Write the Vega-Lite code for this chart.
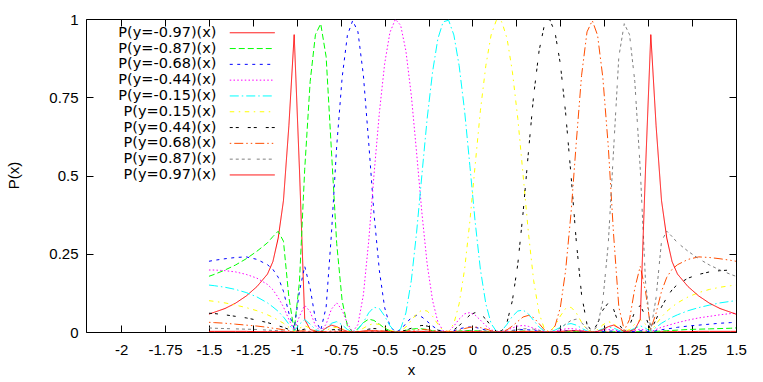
{
"$schema": "https://vega.github.io/schema/vega-lite/v6.json",
"width": 650, "height": 313,
"autosize": {"type": "none"},
"padding": {"left": 86, "top": 19, "right": 27, "bottom": 50},
"background": "white",
"config": {
 "view": {"stroke": "#000", "strokeWidth": 1},
 "font": "Liberation Sans",
 "axis": {"grid": false, "domain": false, "tickColor": "#000", "tickSize": -7, "tickWidth": 1,
  "labelFont": "Liberation Sans", "labelFontSize": 15, "labelColor": "#000",
  "titleFont": "Liberation Sans", "titleFontSize": 15, "titleFontWeight": "normal", "titleColor": "#000"}
},
"data": {"values": [
{"s":"a","x":-1.5,"p":0.057},{"s":"a","x":-1.47,"p":0.063},{"s":"a","x":-1.409,"p":0.075},{"s":"a","x":-1.349,"p":0.092},{"s":"a","x":-1.288,"p":0.115},{"s":"a","x":-1.227,"p":0.145},{"s":"a","x":-1.167,"p":0.185},{"s":"a","x":-1.136,"p":0.225},{"s":"a","x":-1.106,"p":0.3},{"s":"a","x":-1.076,"p":0.42},{"s":"a","x":-1.045,"p":0.66},{"s":"a","x":-1.015,"p":0.95},{"s":"a","x":-0.985,"p":0.52},{"s":"a","x":-0.955,"p":0.04},{"s":"a","x":-0.924,"p":0.008},{"s":"a","x":-0.894,"p":0.003},{"s":"a","x":-0.864,"p":0.001},{"s":"a","x":-0.833,"p":0.013},{"s":"a","x":-0.803,"p":0.022},{"s":"a","x":-0.773,"p":0.017},{"s":"a","x":-0.742,"p":0.008},{"s":"a","x":-0.712,"p":0.002},{"s":"a","x":-0.682,"p":0},{"s":"a","x":-0.652,"p":0.001},{"s":"a","x":-0.621,"p":0.003},{"s":"a","x":-0.591,"p":0.004},{"s":"a","x":-0.561,"p":0.004},{"s":"a","x":-0.53,"p":0.003},{"s":"a","x":-0.5,"p":0.002},{"s":"a","x":-0.47,"p":0},{"s":"a","x":-0.439,"p":0},{"s":"a","x":-0.409,"p":0},{"s":"a","x":-0.379,"p":0.001},{"s":"a","x":-0.348,"p":0.001},{"s":"a","x":-0.318,"p":0.002},{"s":"a","x":-0.288,"p":0.002},{"s":"a","x":-0.258,"p":0.001},{"s":"a","x":-0.227,"p":0.001},{"s":"a","x":-0.197,"p":0},{"s":"a","x":-0.167,"p":0},{"s":"a","x":-0.136,"p":0},{"s":"a","x":-0.106,"p":0},{"s":"a","x":-0.076,"p":0},{"s":"a","x":-0.045,"p":0.001},{"s":"a","x":-0.015,"p":0.001},
{"s":"a","x":0.015,"p":0},{"s":"a","x":0.045,"p":0},{"s":"a","x":0.076,"p":0},{"s":"a","x":0.106,"p":0},{"s":"a","x":0.136,"p":0},{"s":"a","x":0.167,"p":0},{"s":"a","x":0.197,"p":0},{"s":"a","x":0.227,"p":0},{"s":"a","x":0.258,"p":0},{"s":"a","x":0.288,"p":0},{"s":"a","x":0.318,"p":0},{"s":"a","x":0.348,"p":0},{"s":"a","x":0.379,"p":0},{"s":"a","x":0.409,"p":0},{"s":"a","x":0.439,"p":0},{"s":"a","x":0.47,"p":0},{"s":"a","x":0.5,"p":0},{"s":"a","x":0.53,"p":0},{"s":"a","x":0.561,"p":0},{"s":"a","x":0.591,"p":0},{"s":"a","x":0.621,"p":0},{"s":"a","x":0.652,"p":0},{"s":"a","x":0.682,"p":0},{"s":"a","x":0.712,"p":0},{"s":"a","x":0.742,"p":0},{"s":"a","x":0.773,"p":0},{"s":"a","x":0.803,"p":0},{"s":"a","x":0.833,"p":0},{"s":"a","x":0.864,"p":0},{"s":"a","x":0.894,"p":0},{"s":"a","x":0.924,"p":0},{"s":"a","x":0.955,"p":0},{"s":"a","x":0.985,"p":0},{"s":"a","x":1.015,"p":0},{"s":"a","x":1.045,"p":0},{"s":"a","x":1.076,"p":0.001},{"s":"a","x":1.106,"p":0.001},{"s":"a","x":1.136,"p":0.001},{"s":"a","x":1.167,"p":0.001},{"s":"a","x":1.227,"p":0.001},{"s":"a","x":1.288,"p":0.002},{"s":"a","x":1.349,"p":0.002},{"s":"a","x":1.409,"p":0.002},{"s":"a","x":1.47,"p":0.002},{"s":"a","x":1.5,"p":0.002},
{"s":"b","x":-1.5,"p":0.178},{"s":"b","x":-1.47,"p":0.184},{"s":"b","x":-1.409,"p":0.198},{"s":"b","x":-1.349,"p":0.214},{"s":"b","x":-1.288,"p":0.234},{"s":"b","x":-1.227,"p":0.258},{"s":"b","x":-1.167,"p":0.285},{"s":"b","x":-1.136,"p":0.305},{"s":"b","x":-1.106,"p":0.322},{"s":"b","x":-1.076,"p":0.29},{"s":"b","x":-1.045,"p":0.11},{"s":"b","x":-1.015,"p":0.005},{"s":"b","x":-0.985,"p":0.16},{"s":"b","x":-0.955,"p":0.52},{"s":"b","x":-0.924,"p":0.8},{"s":"b","x":-0.894,"p":0.95},{"s":"b","x":-0.864,"p":0.985},{"s":"b","x":-0.833,"p":0.879},{"s":"b","x":-0.803,"p":0.58},{"s":"b","x":-0.773,"p":0.283},{"s":"b","x":-0.742,"p":0.1},{"s":"b","x":-0.712,"p":0.02},{"s":"b","x":-0.682,"p":0},{"s":"b","x":-0.652,"p":0.01},{"s":"b","x":-0.621,"p":0.03},{"s":"b","x":-0.591,"p":0.041},{"s":"b","x":-0.561,"p":0.037},{"s":"b","x":-0.53,"p":0.025},{"s":"b","x":-0.5,"p":0.012},{"s":"b","x":-0.47,"p":0.004},{"s":"b","x":-0.439,"p":0},{"s":"b","x":-0.409,"p":0.001},{"s":"b","x":-0.379,"p":0.005},{"s":"b","x":-0.348,"p":0.009},{"s":"b","x":-0.318,"p":0.011},{"s":"b","x":-0.288,"p":0.01},{"s":"b","x":-0.258,"p":0.008},{"s":"b","x":-0.227,"p":0.004},{"s":"b","x":-0.197,"p":0.002},{"s":"b","x":-0.167,"p":0},{"s":"b","x":-0.136,"p":0},{"s":"b","x":-0.106,"p":0.001},{"s":"b","x":-0.076,"p":0.003},{"s":"b","x":-0.045,"p":0.004},{"s":"b","x":-0.015,"p":0.005},
{"s":"b","x":0.015,"p":0.004},{"s":"b","x":0.045,"p":0.003},{"s":"b","x":0.076,"p":0.002},{"s":"b","x":0.106,"p":0.001},{"s":"b","x":0.136,"p":0},{"s":"b","x":0.167,"p":0},{"s":"b","x":0.197,"p":0.001},{"s":"b","x":0.227,"p":0.002},{"s":"b","x":0.258,"p":0.002},{"s":"b","x":0.288,"p":0.003},{"s":"b","x":0.318,"p":0.002},{"s":"b","x":0.348,"p":0.002},{"s":"b","x":0.379,"p":0.001},{"s":"b","x":0.409,"p":0},{"s":"b","x":0.439,"p":0},{"s":"b","x":0.47,"p":0},{"s":"b","x":0.5,"p":0.001},{"s":"b","x":0.53,"p":0.001},{"s":"b","x":0.561,"p":0.002},{"s":"b","x":0.591,"p":0.001},{"s":"b","x":0.621,"p":0.001},{"s":"b","x":0.652,"p":0},{"s":"b","x":0.682,"p":0},{"s":"b","x":0.712,"p":0},{"s":"b","x":0.742,"p":0.001},{"s":"b","x":0.773,"p":0.001},{"s":"b","x":0.803,"p":0.001},{"s":"b","x":0.833,"p":0},{"s":"b","x":0.864,"p":0},{"s":"b","x":0.894,"p":0.001},{"s":"b","x":0.924,"p":0.001},{"s":"b","x":0.955,"p":0.001},{"s":"b","x":0.985,"p":0.001},{"s":"b","x":1.015,"p":0},{"s":"b","x":1.045,"p":0.002},{"s":"b","x":1.076,"p":0.003},{"s":"b","x":1.106,"p":0.004},{"s":"b","x":1.136,"p":0.005},{"s":"b","x":1.167,"p":0.006},{"s":"b","x":1.227,"p":0.008},{"s":"b","x":1.288,"p":0.009},{"s":"b","x":1.349,"p":0.01},{"s":"b","x":1.409,"p":0.011},{"s":"b","x":1.47,"p":0.012},{"s":"b","x":1.5,"p":0.013},
{"s":"c","x":-1.5,"p":0.226},{"s":"c","x":-1.47,"p":0.229},{"s":"c","x":-1.409,"p":0.234},{"s":"c","x":-1.349,"p":0.238},{"s":"c","x":-1.288,"p":0.24},{"s":"c","x":-1.227,"p":0.232},{"s":"c","x":-1.167,"p":0.215},{"s":"c","x":-1.136,"p":0.2},{"s":"c","x":-1.106,"p":0.175},{"s":"c","x":-1.076,"p":0.13},{"s":"c","x":-1.045,"p":0.06},{"s":"c","x":-1.015,"p":0.01},{"s":"c","x":-0.985,"p":0.13},{"s":"c","x":-0.955,"p":0.21},{"s":"c","x":-0.924,"p":0.14},{"s":"c","x":-0.894,"p":0.04},{"s":"c","x":-0.864,"p":0.005},{"s":"c","x":-0.833,"p":0.08},{"s":"c","x":-0.803,"p":0.313},{"s":"c","x":-0.773,"p":0.593},{"s":"c","x":-0.742,"p":0.813},{"s":"c","x":-0.712,"p":0.948},{"s":"c","x":-0.682,"p":0.995},{"s":"c","x":-0.652,"p":0.959},{"s":"c","x":-0.621,"p":0.82},{"s":"c","x":-0.591,"p":0.607},{"s":"c","x":-0.561,"p":0.38},{"s":"c","x":-0.53,"p":0.196},{"s":"c","x":-0.5,"p":0.078},{"s":"c","x":-0.47,"p":0.019},{"s":"c","x":-0.439,"p":0},{"s":"c","x":-0.409,"p":0.007},{"s":"c","x":-0.379,"p":0.027},{"s":"c","x":-0.348,"p":0.046},{"s":"c","x":-0.318,"p":0.053},{"s":"c","x":-0.288,"p":0.048},{"s":"c","x":-0.258,"p":0.034},{"s":"c","x":-0.227,"p":0.019},{"s":"c","x":-0.197,"p":0.007},{"s":"c","x":-0.167,"p":0.001},{"s":"c","x":-0.136,"p":0},{"s":"c","x":-0.106,"p":0.004},{"s":"c","x":-0.076,"p":0.01},{"s":"c","x":-0.045,"p":0.014},{"s":"c","x":-0.015,"p":0.016},
{"s":"c","x":0.015,"p":0.015},{"s":"c","x":0.045,"p":0.011},{"s":"c","x":0.076,"p":0.006},{"s":"c","x":0.106,"p":0.002},{"s":"c","x":0.136,"p":0},{"s":"c","x":0.167,"p":0},{"s":"c","x":0.197,"p":0.002},{"s":"c","x":0.227,"p":0.005},{"s":"c","x":0.258,"p":0.007},{"s":"c","x":0.288,"p":0.008},{"s":"c","x":0.318,"p":0.007},{"s":"c","x":0.348,"p":0.005},{"s":"c","x":0.379,"p":0.002},{"s":"c","x":0.409,"p":0},{"s":"c","x":0.439,"p":0},{"s":"c","x":0.47,"p":0.001},{"s":"c","x":0.5,"p":0.003},{"s":"c","x":0.53,"p":0.004},{"s":"c","x":0.561,"p":0.005},{"s":"c","x":0.591,"p":0.004},{"s":"c","x":0.621,"p":0.002},{"s":"c","x":0.652,"p":0.001},{"s":"c","x":0.682,"p":0},{"s":"c","x":0.712,"p":0.001},{"s":"c","x":0.742,"p":0.002},{"s":"c","x":0.773,"p":0.003},{"s":"c","x":0.803,"p":0.003},{"s":"c","x":0.833,"p":0.001},{"s":"c","x":0.864,"p":0},{"s":"c","x":0.894,"p":0.001},{"s":"c","x":0.924,"p":0.002},{"s":"c","x":0.955,"p":0.004},{"s":"c","x":0.985,"p":0.003},{"s":"c","x":1.015,"p":0},{"s":"c","x":1.045,"p":0.004},{"s":"c","x":1.076,"p":0.007},{"s":"c","x":1.106,"p":0.01},{"s":"c","x":1.136,"p":0.012},{"s":"c","x":1.167,"p":0.015},{"s":"c","x":1.227,"p":0.019},{"s":"c","x":1.288,"p":0.022},{"s":"c","x":1.349,"p":0.025},{"s":"c","x":1.409,"p":0.028},{"s":"c","x":1.47,"p":0.03},{"s":"c","x":1.5,"p":0.031},
{"s":"d","x":-1.5,"p":0.198},{"s":"d","x":-1.47,"p":0.198},{"s":"d","x":-1.409,"p":0.196},{"s":"d","x":-1.349,"p":0.192},{"s":"d","x":-1.288,"p":0.184},{"s":"d","x":-1.227,"p":0.172},{"s":"d","x":-1.167,"p":0.152},{"s":"d","x":-1.136,"p":0.135},{"s":"d","x":-1.106,"p":0.11},{"s":"d","x":-1.076,"p":0.08},{"s":"d","x":-1.045,"p":0.04},{"s":"d","x":-1.015,"p":0.005},{"s":"d","x":-0.985,"p":0.05},{"s":"d","x":-0.955,"p":0.085},{"s":"d","x":-0.924,"p":0.065},{"s":"d","x":-0.894,"p":0.02},{"s":"d","x":-0.864,"p":0.002},{"s":"d","x":-0.833,"p":0.025},{"s":"d","x":-0.803,"p":0.073},{"s":"d","x":-0.773,"p":0.093},{"s":"d","x":-0.742,"p":0.07},{"s":"d","x":-0.712,"p":0.027},{"s":"d","x":-0.682,"p":0},{"s":"d","x":-0.652,"p":0.024},{"s":"d","x":-0.621,"p":0.119},{"s":"d","x":-0.591,"p":0.289},{"s":"d","x":-0.561,"p":0.5},{"s":"d","x":-0.53,"p":0.701},{"s":"d","x":-0.5,"p":0.857},{"s":"d","x":-0.47,"p":0.957},{"s":"d","x":-0.439,"p":0.999},{"s":"d","x":-0.409,"p":0.98},{"s":"d","x":-0.379,"p":0.898},{"s":"d","x":-0.348,"p":0.755},{"s":"d","x":-0.318,"p":0.572},{"s":"d","x":-0.288,"p":0.381},{"s":"d","x":-0.258,"p":0.217},{"s":"d","x":-0.227,"p":0.1},{"s":"d","x":-0.197,"p":0.032},{"s":"d","x":-0.167,"p":0.004},{"s":"d","x":-0.136,"p":0.002},{"s":"d","x":-0.106,"p":0.019},{"s":"d","x":-0.076,"p":0.041},{"s":"d","x":-0.045,"p":0.058},{"s":"d","x":-0.015,"p":0.062},
{"s":"d","x":0.015,"p":0.054},{"s":"d","x":0.045,"p":0.038},{"s":"d","x":0.076,"p":0.02},{"s":"d","x":0.106,"p":0.007},{"s":"d","x":0.136,"p":0.001},{"s":"d","x":0.167,"p":0.001},{"s":"d","x":0.197,"p":0.006},{"s":"d","x":0.227,"p":0.013},{"s":"d","x":0.258,"p":0.019},{"s":"d","x":0.288,"p":0.021},{"s":"d","x":0.318,"p":0.018},{"s":"d","x":0.348,"p":0.012},{"s":"d","x":0.379,"p":0.006},{"s":"d","x":0.409,"p":0.001},{"s":"d","x":0.439,"p":0},{"s":"d","x":0.47,"p":0.002},{"s":"d","x":0.5,"p":0.006},{"s":"d","x":0.53,"p":0.01},{"s":"d","x":0.561,"p":0.011},{"s":"d","x":0.591,"p":0.009},{"s":"d","x":0.621,"p":0.005},{"s":"d","x":0.652,"p":0.001},{"s":"d","x":0.682,"p":0},{"s":"d","x":0.712,"p":0.002},{"s":"d","x":0.742,"p":0.005},{"s":"d","x":0.773,"p":0.008},{"s":"d","x":0.803,"p":0.007},{"s":"d","x":0.833,"p":0.003},{"s":"d","x":0.864,"p":0.001},{"s":"d","x":0.894,"p":0.002},{"s":"d","x":0.924,"p":0.005},{"s":"d","x":0.955,"p":0.009},{"s":"d","x":0.985,"p":0.006},{"s":"d","x":1.015,"p":0.001},{"s":"d","x":1.045,"p":0.008},{"s":"d","x":1.076,"p":0.015},{"s":"d","x":1.106,"p":0.02},{"s":"d","x":1.136,"p":0.025},{"s":"d","x":1.167,"p":0.03},{"s":"d","x":1.227,"p":0.038},{"s":"d","x":1.288,"p":0.045},{"s":"d","x":1.349,"p":0.05},{"s":"d","x":1.409,"p":0.055},{"s":"d","x":1.47,"p":0.059},{"s":"d","x":1.5,"p":0.06},
{"s":"e","x":-1.5,"p":0.15},{"s":"e","x":-1.47,"p":0.148},{"s":"e","x":-1.409,"p":0.143},{"s":"e","x":-1.349,"p":0.136},{"s":"e","x":-1.288,"p":0.126},{"s":"e","x":-1.227,"p":0.112},{"s":"e","x":-1.167,"p":0.093},{"s":"e","x":-1.136,"p":0.08},{"s":"e","x":-1.106,"p":0.066},{"s":"e","x":-1.076,"p":0.048},{"s":"e","x":-1.045,"p":0.025},{"s":"e","x":-1.015,"p":0.002},{"s":"e","x":-0.985,"p":0.025},{"s":"e","x":-0.955,"p":0.04},{"s":"e","x":-0.924,"p":0.025},{"s":"e","x":-0.894,"p":0.008},{"s":"e","x":-0.864,"p":0.001},{"s":"e","x":-0.833,"p":0.01},{"s":"e","x":-0.803,"p":0.028},{"s":"e","x":-0.773,"p":0.033},{"s":"e","x":-0.742,"p":0.023},{"s":"e","x":-0.712,"p":0.008},{"s":"e","x":-0.682,"p":0},{"s":"e","x":-0.652,"p":0.008},{"s":"e","x":-0.621,"p":0.031},{"s":"e","x":-0.591,"p":0.061},{"s":"e","x":-0.561,"p":0.079},{"s":"e","x":-0.53,"p":0.075},{"s":"e","x":-0.5,"p":0.051},{"s":"e","x":-0.47,"p":0.02},{"s":"e","x":-0.439,"p":0},{"s":"e","x":-0.409,"p":0.01},{"s":"e","x":-0.379,"p":0.061},{"s":"e","x":-0.348,"p":0.165},{"s":"e","x":-0.318,"p":0.319},{"s":"e","x":-0.288,"p":0.502},{"s":"e","x":-0.258,"p":0.682},{"s":"e","x":-0.227,"p":0.832},{"s":"e","x":-0.197,"p":0.937},{"s":"e","x":-0.167,"p":0.991},{"s":"e","x":-0.136,"p":0.996},{"s":"e","x":-0.106,"p":0.949},{"s":"e","x":-0.076,"p":0.851},{"s":"e","x":-0.045,"p":0.707},{"s":"e","x":-0.015,"p":0.532},
{"s":"e","x":0.015,"p":0.353},{"s":"e","x":0.045,"p":0.2},{"s":"e","x":0.076,"p":0.09},{"s":"e","x":0.106,"p":0.027},{"s":"e","x":0.136,"p":0.002},{"s":"e","x":0.167,"p":0.004},{"s":"e","x":0.197,"p":0.025},{"s":"e","x":0.227,"p":0.05},{"s":"e","x":0.258,"p":0.067},{"s":"e","x":0.288,"p":0.07},{"s":"e","x":0.318,"p":0.058},{"s":"e","x":0.348,"p":0.037},{"s":"e","x":0.379,"p":0.016},{"s":"e","x":0.409,"p":0.003},{"s":"e","x":0.439,"p":0},{"s":"e","x":0.47,"p":0.006},{"s":"e","x":0.5,"p":0.015},{"s":"e","x":0.53,"p":0.024},{"s":"e","x":0.561,"p":0.027},{"s":"e","x":0.591,"p":0.022},{"s":"e","x":0.621,"p":0.012},{"s":"e","x":0.652,"p":0.003},{"s":"e","x":0.682,"p":0},{"s":"e","x":0.712,"p":0.004},{"s":"e","x":0.742,"p":0.01},{"s":"e","x":0.773,"p":0.015},{"s":"e","x":0.803,"p":0.013},{"s":"e","x":0.833,"p":0.005},{"s":"e","x":0.864,"p":0.001},{"s":"e","x":0.894,"p":0.004},{"s":"e","x":0.924,"p":0.012},{"s":"e","x":0.955,"p":0.02},{"s":"e","x":0.985,"p":0.012},{"s":"e","x":1.015,"p":0.001},{"s":"e","x":1.045,"p":0.015},{"s":"e","x":1.076,"p":0.028},{"s":"e","x":1.106,"p":0.038},{"s":"e","x":1.136,"p":0.047},{"s":"e","x":1.167,"p":0.055},{"s":"e","x":1.227,"p":0.068},{"s":"e","x":1.288,"p":0.078},{"s":"e","x":1.349,"p":0.086},{"s":"e","x":1.409,"p":0.093},{"s":"e","x":1.47,"p":0.098},{"s":"e","x":1.5,"p":0.1},
{"s":"f","x":-1.5,"p":0.1},{"s":"f","x":-1.47,"p":0.098},{"s":"f","x":-1.409,"p":0.093},{"s":"f","x":-1.349,"p":0.086},{"s":"f","x":-1.288,"p":0.078},{"s":"f","x":-1.227,"p":0.068},{"s":"f","x":-1.167,"p":0.055},{"s":"f","x":-1.136,"p":0.047},{"s":"f","x":-1.106,"p":0.038},{"s":"f","x":-1.076,"p":0.028},{"s":"f","x":-1.045,"p":0.015},{"s":"f","x":-1.015,"p":0.001},{"s":"f","x":-0.985,"p":0.012},{"s":"f","x":-0.955,"p":0.02},{"s":"f","x":-0.924,"p":0.012},{"s":"f","x":-0.894,"p":0.004},{"s":"f","x":-0.864,"p":0.001},{"s":"f","x":-0.833,"p":0.005},{"s":"f","x":-0.803,"p":0.013},{"s":"f","x":-0.773,"p":0.015},{"s":"f","x":-0.742,"p":0.01},{"s":"f","x":-0.712,"p":0.004},{"s":"f","x":-0.682,"p":0},{"s":"f","x":-0.652,"p":0.003},{"s":"f","x":-0.621,"p":0.012},{"s":"f","x":-0.591,"p":0.022},{"s":"f","x":-0.561,"p":0.027},{"s":"f","x":-0.53,"p":0.024},{"s":"f","x":-0.5,"p":0.015},{"s":"f","x":-0.47,"p":0.006},{"s":"f","x":-0.439,"p":0},{"s":"f","x":-0.409,"p":0.003},{"s":"f","x":-0.379,"p":0.016},{"s":"f","x":-0.348,"p":0.037},{"s":"f","x":-0.318,"p":0.058},{"s":"f","x":-0.288,"p":0.07},{"s":"f","x":-0.258,"p":0.067},{"s":"f","x":-0.227,"p":0.05},{"s":"f","x":-0.197,"p":0.025},{"s":"f","x":-0.167,"p":0.004},{"s":"f","x":-0.136,"p":0.002},{"s":"f","x":-0.106,"p":0.027},{"s":"f","x":-0.076,"p":0.09},{"s":"f","x":-0.045,"p":0.2},{"s":"f","x":-0.015,"p":0.353},
{"s":"f","x":0.015,"p":0.532},{"s":"f","x":0.045,"p":0.707},{"s":"f","x":0.076,"p":0.851},{"s":"f","x":0.106,"p":0.949},{"s":"f","x":0.136,"p":0.996},{"s":"f","x":0.167,"p":0.991},{"s":"f","x":0.197,"p":0.937},{"s":"f","x":0.227,"p":0.832},{"s":"f","x":0.258,"p":0.682},{"s":"f","x":0.288,"p":0.502},{"s":"f","x":0.318,"p":0.319},{"s":"f","x":0.348,"p":0.165},{"s":"f","x":0.379,"p":0.061},{"s":"f","x":0.409,"p":0.01},{"s":"f","x":0.439,"p":0},{"s":"f","x":0.47,"p":0.02},{"s":"f","x":0.5,"p":0.051},{"s":"f","x":0.53,"p":0.075},{"s":"f","x":0.561,"p":0.079},{"s":"f","x":0.591,"p":0.061},{"s":"f","x":0.621,"p":0.031},{"s":"f","x":0.652,"p":0.008},{"s":"f","x":0.682,"p":0},{"s":"f","x":0.712,"p":0.008},{"s":"f","x":0.742,"p":0.023},{"s":"f","x":0.773,"p":0.033},{"s":"f","x":0.803,"p":0.028},{"s":"f","x":0.833,"p":0.01},{"s":"f","x":0.864,"p":0.001},{"s":"f","x":0.894,"p":0.008},{"s":"f","x":0.924,"p":0.025},{"s":"f","x":0.955,"p":0.04},{"s":"f","x":0.985,"p":0.025},{"s":"f","x":1.015,"p":0.002},{"s":"f","x":1.045,"p":0.025},{"s":"f","x":1.076,"p":0.048},{"s":"f","x":1.106,"p":0.066},{"s":"f","x":1.136,"p":0.08},{"s":"f","x":1.167,"p":0.093},{"s":"f","x":1.227,"p":0.112},{"s":"f","x":1.288,"p":0.126},{"s":"f","x":1.349,"p":0.136},{"s":"f","x":1.409,"p":0.143},{"s":"f","x":1.47,"p":0.148},{"s":"f","x":1.5,"p":0.15},
{"s":"g","x":-1.5,"p":0.06},{"s":"g","x":-1.47,"p":0.059},{"s":"g","x":-1.409,"p":0.055},{"s":"g","x":-1.349,"p":0.05},{"s":"g","x":-1.288,"p":0.045},{"s":"g","x":-1.227,"p":0.038},{"s":"g","x":-1.167,"p":0.03},{"s":"g","x":-1.136,"p":0.025},{"s":"g","x":-1.106,"p":0.02},{"s":"g","x":-1.076,"p":0.015},{"s":"g","x":-1.045,"p":0.008},{"s":"g","x":-1.015,"p":0.001},{"s":"g","x":-0.985,"p":0.006},{"s":"g","x":-0.955,"p":0.009},{"s":"g","x":-0.924,"p":0.005},{"s":"g","x":-0.894,"p":0.002},{"s":"g","x":-0.864,"p":0.001},{"s":"g","x":-0.833,"p":0.003},{"s":"g","x":-0.803,"p":0.007},{"s":"g","x":-0.773,"p":0.008},{"s":"g","x":-0.742,"p":0.005},{"s":"g","x":-0.712,"p":0.002},{"s":"g","x":-0.682,"p":0},{"s":"g","x":-0.652,"p":0.001},{"s":"g","x":-0.621,"p":0.005},{"s":"g","x":-0.591,"p":0.009},{"s":"g","x":-0.561,"p":0.011},{"s":"g","x":-0.53,"p":0.01},{"s":"g","x":-0.5,"p":0.006},{"s":"g","x":-0.47,"p":0.002},{"s":"g","x":-0.439,"p":0},{"s":"g","x":-0.409,"p":0.001},{"s":"g","x":-0.379,"p":0.006},{"s":"g","x":-0.348,"p":0.012},{"s":"g","x":-0.318,"p":0.018},{"s":"g","x":-0.288,"p":0.021},{"s":"g","x":-0.258,"p":0.019},{"s":"g","x":-0.227,"p":0.013},{"s":"g","x":-0.197,"p":0.006},{"s":"g","x":-0.167,"p":0.001},{"s":"g","x":-0.136,"p":0.001},{"s":"g","x":-0.106,"p":0.007},{"s":"g","x":-0.076,"p":0.02},{"s":"g","x":-0.045,"p":0.038},{"s":"g","x":-0.015,"p":0.054},
{"s":"g","x":0.015,"p":0.062},{"s":"g","x":0.045,"p":0.058},{"s":"g","x":0.076,"p":0.041},{"s":"g","x":0.106,"p":0.019},{"s":"g","x":0.136,"p":0.002},{"s":"g","x":0.167,"p":0.004},{"s":"g","x":0.197,"p":0.032},{"s":"g","x":0.227,"p":0.1},{"s":"g","x":0.258,"p":0.217},{"s":"g","x":0.288,"p":0.381},{"s":"g","x":0.318,"p":0.572},{"s":"g","x":0.348,"p":0.755},{"s":"g","x":0.379,"p":0.898},{"s":"g","x":0.409,"p":0.98},{"s":"g","x":0.439,"p":0.999},{"s":"g","x":0.47,"p":0.957},{"s":"g","x":0.5,"p":0.857},{"s":"g","x":0.53,"p":0.701},{"s":"g","x":0.561,"p":0.5},{"s":"g","x":0.591,"p":0.289},{"s":"g","x":0.621,"p":0.119},{"s":"g","x":0.652,"p":0.024},{"s":"g","x":0.682,"p":0},{"s":"g","x":0.712,"p":0.027},{"s":"g","x":0.742,"p":0.07},{"s":"g","x":0.773,"p":0.093},{"s":"g","x":0.803,"p":0.073},{"s":"g","x":0.833,"p":0.025},{"s":"g","x":0.864,"p":0.002},{"s":"g","x":0.894,"p":0.02},{"s":"g","x":0.924,"p":0.065},{"s":"g","x":0.955,"p":0.085},{"s":"g","x":0.985,"p":0.05},{"s":"g","x":1.015,"p":0.005},{"s":"g","x":1.045,"p":0.04},{"s":"g","x":1.076,"p":0.08},{"s":"g","x":1.106,"p":0.11},{"s":"g","x":1.136,"p":0.135},{"s":"g","x":1.167,"p":0.152},{"s":"g","x":1.227,"p":0.172},{"s":"g","x":1.288,"p":0.184},{"s":"g","x":1.349,"p":0.192},{"s":"g","x":1.409,"p":0.196},{"s":"g","x":1.47,"p":0.198},{"s":"g","x":1.5,"p":0.198},
{"s":"h","x":-1.5,"p":0.031},{"s":"h","x":-1.47,"p":0.03},{"s":"h","x":-1.409,"p":0.028},{"s":"h","x":-1.349,"p":0.025},{"s":"h","x":-1.288,"p":0.022},{"s":"h","x":-1.227,"p":0.019},{"s":"h","x":-1.167,"p":0.015},{"s":"h","x":-1.136,"p":0.012},{"s":"h","x":-1.106,"p":0.01},{"s":"h","x":-1.076,"p":0.007},{"s":"h","x":-1.045,"p":0.004},{"s":"h","x":-1.015,"p":0},{"s":"h","x":-0.985,"p":0.003},{"s":"h","x":-0.955,"p":0.004},{"s":"h","x":-0.924,"p":0.002},{"s":"h","x":-0.894,"p":0.001},{"s":"h","x":-0.864,"p":0},{"s":"h","x":-0.833,"p":0.001},{"s":"h","x":-0.803,"p":0.003},{"s":"h","x":-0.773,"p":0.003},{"s":"h","x":-0.742,"p":0.002},{"s":"h","x":-0.712,"p":0.001},{"s":"h","x":-0.682,"p":0},{"s":"h","x":-0.652,"p":0.001},{"s":"h","x":-0.621,"p":0.002},{"s":"h","x":-0.591,"p":0.004},{"s":"h","x":-0.561,"p":0.005},{"s":"h","x":-0.53,"p":0.004},{"s":"h","x":-0.5,"p":0.003},{"s":"h","x":-0.47,"p":0.001},{"s":"h","x":-0.439,"p":0},{"s":"h","x":-0.409,"p":0},{"s":"h","x":-0.379,"p":0.002},{"s":"h","x":-0.348,"p":0.005},{"s":"h","x":-0.318,"p":0.007},{"s":"h","x":-0.288,"p":0.008},{"s":"h","x":-0.258,"p":0.007},{"s":"h","x":-0.227,"p":0.005},{"s":"h","x":-0.197,"p":0.002},{"s":"h","x":-0.167,"p":0},{"s":"h","x":-0.136,"p":0},{"s":"h","x":-0.106,"p":0.002},{"s":"h","x":-0.076,"p":0.006},{"s":"h","x":-0.045,"p":0.011},{"s":"h","x":-0.015,"p":0.015},
{"s":"h","x":0.015,"p":0.016},{"s":"h","x":0.045,"p":0.014},{"s":"h","x":0.076,"p":0.01},{"s":"h","x":0.106,"p":0.004},{"s":"h","x":0.136,"p":0},{"s":"h","x":0.167,"p":0.001},{"s":"h","x":0.197,"p":0.007},{"s":"h","x":0.227,"p":0.019},{"s":"h","x":0.258,"p":0.034},{"s":"h","x":0.288,"p":0.048},{"s":"h","x":0.318,"p":0.053},{"s":"h","x":0.348,"p":0.046},{"s":"h","x":0.379,"p":0.027},{"s":"h","x":0.409,"p":0.007},{"s":"h","x":0.439,"p":0},{"s":"h","x":0.47,"p":0.019},{"s":"h","x":0.5,"p":0.078},{"s":"h","x":0.53,"p":0.196},{"s":"h","x":0.561,"p":0.38},{"s":"h","x":0.591,"p":0.607},{"s":"h","x":0.621,"p":0.82},{"s":"h","x":0.652,"p":0.959},{"s":"h","x":0.682,"p":0.995},{"s":"h","x":0.712,"p":0.948},{"s":"h","x":0.742,"p":0.813},{"s":"h","x":0.773,"p":0.593},{"s":"h","x":0.803,"p":0.313},{"s":"h","x":0.833,"p":0.08},{"s":"h","x":0.864,"p":0.005},{"s":"h","x":0.894,"p":0.04},{"s":"h","x":0.924,"p":0.14},{"s":"h","x":0.955,"p":0.21},{"s":"h","x":0.985,"p":0.13},{"s":"h","x":1.015,"p":0.01},{"s":"h","x":1.045,"p":0.06},{"s":"h","x":1.076,"p":0.13},{"s":"h","x":1.106,"p":0.175},{"s":"h","x":1.136,"p":0.2},{"s":"h","x":1.167,"p":0.215},{"s":"h","x":1.227,"p":0.232},{"s":"h","x":1.288,"p":0.24},{"s":"h","x":1.349,"p":0.238},{"s":"h","x":1.409,"p":0.234},{"s":"h","x":1.47,"p":0.229},{"s":"h","x":1.5,"p":0.226},
{"s":"i","x":-1.5,"p":0.013},{"s":"i","x":-1.47,"p":0.012},{"s":"i","x":-1.409,"p":0.011},{"s":"i","x":-1.349,"p":0.01},{"s":"i","x":-1.288,"p":0.009},{"s":"i","x":-1.227,"p":0.008},{"s":"i","x":-1.167,"p":0.006},{"s":"i","x":-1.136,"p":0.005},{"s":"i","x":-1.106,"p":0.004},{"s":"i","x":-1.076,"p":0.003},{"s":"i","x":-1.045,"p":0.002},{"s":"i","x":-1.015,"p":0},{"s":"i","x":-0.985,"p":0.001},{"s":"i","x":-0.955,"p":0.001},{"s":"i","x":-0.924,"p":0.001},{"s":"i","x":-0.894,"p":0.001},{"s":"i","x":-0.864,"p":0},{"s":"i","x":-0.833,"p":0},{"s":"i","x":-0.803,"p":0.001},{"s":"i","x":-0.773,"p":0.001},{"s":"i","x":-0.742,"p":0.001},{"s":"i","x":-0.712,"p":0},{"s":"i","x":-0.682,"p":0},{"s":"i","x":-0.652,"p":0},{"s":"i","x":-0.621,"p":0.001},{"s":"i","x":-0.591,"p":0.001},{"s":"i","x":-0.561,"p":0.002},{"s":"i","x":-0.53,"p":0.001},{"s":"i","x":-0.5,"p":0.001},{"s":"i","x":-0.47,"p":0},{"s":"i","x":-0.439,"p":0},{"s":"i","x":-0.409,"p":0},{"s":"i","x":-0.379,"p":0.001},{"s":"i","x":-0.348,"p":0.002},{"s":"i","x":-0.318,"p":0.002},{"s":"i","x":-0.288,"p":0.003},{"s":"i","x":-0.258,"p":0.002},{"s":"i","x":-0.227,"p":0.002},{"s":"i","x":-0.197,"p":0.001},{"s":"i","x":-0.167,"p":0},{"s":"i","x":-0.136,"p":0},{"s":"i","x":-0.106,"p":0.001},{"s":"i","x":-0.076,"p":0.002},{"s":"i","x":-0.045,"p":0.003},{"s":"i","x":-0.015,"p":0.004},
{"s":"i","x":0.015,"p":0.005},{"s":"i","x":0.045,"p":0.004},{"s":"i","x":0.076,"p":0.003},{"s":"i","x":0.106,"p":0.001},{"s":"i","x":0.136,"p":0},{"s":"i","x":0.167,"p":0},{"s":"i","x":0.197,"p":0.002},{"s":"i","x":0.227,"p":0.004},{"s":"i","x":0.258,"p":0.008},{"s":"i","x":0.288,"p":0.01},{"s":"i","x":0.318,"p":0.011},{"s":"i","x":0.348,"p":0.009},{"s":"i","x":0.379,"p":0.005},{"s":"i","x":0.409,"p":0.001},{"s":"i","x":0.439,"p":0},{"s":"i","x":0.47,"p":0.004},{"s":"i","x":0.5,"p":0.012},{"s":"i","x":0.53,"p":0.025},{"s":"i","x":0.561,"p":0.037},{"s":"i","x":0.591,"p":0.041},{"s":"i","x":0.621,"p":0.03},{"s":"i","x":0.652,"p":0.01},{"s":"i","x":0.682,"p":0},{"s":"i","x":0.712,"p":0.02},{"s":"i","x":0.742,"p":0.1},{"s":"i","x":0.773,"p":0.283},{"s":"i","x":0.803,"p":0.58},{"s":"i","x":0.833,"p":0.879},{"s":"i","x":0.864,"p":0.985},{"s":"i","x":0.894,"p":0.95},{"s":"i","x":0.924,"p":0.8},{"s":"i","x":0.955,"p":0.52},{"s":"i","x":0.985,"p":0.16},{"s":"i","x":1.015,"p":0.005},{"s":"i","x":1.045,"p":0.11},{"s":"i","x":1.076,"p":0.29},{"s":"i","x":1.106,"p":0.322},{"s":"i","x":1.136,"p":0.305},{"s":"i","x":1.167,"p":0.285},{"s":"i","x":1.227,"p":0.258},{"s":"i","x":1.288,"p":0.234},{"s":"i","x":1.349,"p":0.214},{"s":"i","x":1.409,"p":0.198},{"s":"i","x":1.47,"p":0.184},{"s":"i","x":1.5,"p":0.178},
{"s":"j","x":-1.5,"p":0.002},{"s":"j","x":-1.47,"p":0.002},{"s":"j","x":-1.409,"p":0.002},{"s":"j","x":-1.349,"p":0.002},{"s":"j","x":-1.288,"p":0.002},{"s":"j","x":-1.227,"p":0.001},{"s":"j","x":-1.167,"p":0.001},{"s":"j","x":-1.136,"p":0.001},{"s":"j","x":-1.106,"p":0.001},{"s":"j","x":-1.076,"p":0.001},{"s":"j","x":-1.045,"p":0},{"s":"j","x":-1.015,"p":0},{"s":"j","x":-0.985,"p":0},{"s":"j","x":-0.955,"p":0},{"s":"j","x":-0.924,"p":0},{"s":"j","x":-0.894,"p":0},{"s":"j","x":-0.864,"p":0},{"s":"j","x":-0.833,"p":0},{"s":"j","x":-0.803,"p":0},{"s":"j","x":-0.773,"p":0},{"s":"j","x":-0.742,"p":0},{"s":"j","x":-0.712,"p":0},{"s":"j","x":-0.682,"p":0},{"s":"j","x":-0.652,"p":0},{"s":"j","x":-0.621,"p":0},{"s":"j","x":-0.591,"p":0},{"s":"j","x":-0.561,"p":0},{"s":"j","x":-0.53,"p":0},{"s":"j","x":-0.5,"p":0},{"s":"j","x":-0.47,"p":0},{"s":"j","x":-0.439,"p":0},{"s":"j","x":-0.409,"p":0},{"s":"j","x":-0.379,"p":0},{"s":"j","x":-0.348,"p":0},{"s":"j","x":-0.318,"p":0},{"s":"j","x":-0.288,"p":0},{"s":"j","x":-0.258,"p":0},{"s":"j","x":-0.227,"p":0},{"s":"j","x":-0.197,"p":0},{"s":"j","x":-0.167,"p":0},{"s":"j","x":-0.136,"p":0},{"s":"j","x":-0.106,"p":0},{"s":"j","x":-0.076,"p":0},{"s":"j","x":-0.045,"p":0},{"s":"j","x":-0.015,"p":0},
{"s":"j","x":0.015,"p":0.001},{"s":"j","x":0.045,"p":0.001},{"s":"j","x":0.076,"p":0},{"s":"j","x":0.106,"p":0},{"s":"j","x":0.136,"p":0},{"s":"j","x":0.167,"p":0},{"s":"j","x":0.197,"p":0},{"s":"j","x":0.227,"p":0.001},{"s":"j","x":0.258,"p":0.001},{"s":"j","x":0.288,"p":0.002},{"s":"j","x":0.318,"p":0.002},{"s":"j","x":0.348,"p":0.001},{"s":"j","x":0.379,"p":0.001},{"s":"j","x":0.409,"p":0},{"s":"j","x":0.439,"p":0},{"s":"j","x":0.47,"p":0},{"s":"j","x":0.5,"p":0.002},{"s":"j","x":0.53,"p":0.003},{"s":"j","x":0.561,"p":0.004},{"s":"j","x":0.591,"p":0.004},{"s":"j","x":0.621,"p":0.003},{"s":"j","x":0.652,"p":0.001},{"s":"j","x":0.682,"p":0},{"s":"j","x":0.712,"p":0.002},{"s":"j","x":0.742,"p":0.008},{"s":"j","x":0.773,"p":0.017},{"s":"j","x":0.803,"p":0.022},{"s":"j","x":0.833,"p":0.013},{"s":"j","x":0.864,"p":0.001},{"s":"j","x":0.894,"p":0.003},{"s":"j","x":0.924,"p":0.008},{"s":"j","x":0.955,"p":0.04},{"s":"j","x":0.985,"p":0.52},{"s":"j","x":1.015,"p":0.95},{"s":"j","x":1.045,"p":0.66},{"s":"j","x":1.076,"p":0.42},{"s":"j","x":1.106,"p":0.3},{"s":"j","x":1.136,"p":0.225},{"s":"j","x":1.167,"p":0.185},{"s":"j","x":1.227,"p":0.145},{"s":"j","x":1.288,"p":0.115},{"s":"j","x":1.349,"p":0.092},{"s":"j","x":1.409,"p":0.075},{"s":"j","x":1.47,"p":0.063},{"s":"j","x":1.5,"p":0.057}
]},
"layer": [
 {
  "mark": {"type": "line", "strokeWidth": 1, "clip": true},
  "encoding": {
   "x": {"field": "x", "type": "quantitative", "scale": {"domain": [-2.2, 1.5], "nice": false, "zero": false},
    "axis": {"orient": "bottom", "values": [-2,-1.75,-1.5,-1.25,-1,-0.75,-0.5,-0.25,0,0.25,0.5,0.75,1,1.25,1.5], "labelExpr": "toString(datum.value)", "labelPadding": 17, "labelFlush": false, "labelOverlap": false, "title": "x", "titleX": 325, "titleY": 42, "titleBaseline": "alphabetic"}},
   "y": {"field": "p", "type": "quantitative", "scale": {"domain": [0, 1], "nice": false, "zero": false},
    "axis": {"orient": "left", "values": [0,0.25,0.5,0.75,1], "labelExpr": "toString(datum.value)", "labelPadding": 15, "labelFlush": false, "labelOverlap": false, "title": "P(x)", "titleX": -68, "titleY": 156, "titleAlign": "center", "titleBaseline": "alphabetic", "titleAngle": -90}},
   "color": {"field": "s", "type": "nominal",
    "scale": {"domain": ["a","b","c","d","e","f","g","h","i","j"], "range": ["#ff0000","#00ff00","#0000ff","#ff00ff","#00ffff","#ffff00","#000000","#ff4d00","#808080","#ff0000"]},
    "legend": {"title": null, "orient": "none", "legendX": 131, "legendY": 6.5, "padding": 0, "rowPadding": 0.8,
     "labelExpr": "{'a':'P(y=-0.97)(x)','b':'P(y=-0.87)(x)','c':'P(y=-0.68)(x)','d':'P(y=-0.44)(x)','e':'P(y=-0.15)(x)','f':'P(y=0.15)(x)','g':'P(y=0.44)(x)','h':'P(y=0.68)(x)','i':'P(y=0.87)(x)','j':'P(y=0.97)(x)'}[datum.label]",
     "labelAlign": "right", "labelOffset": -43, "symbolOffset": 28, "symbolType": "M-4.5,0H4.5", "symbolSize": 100, "symbolStrokeWidth": 1,
     "labelFont": "DejaVu Sans", "labelFontSize": 14.5, "labelColor": "#000", "labelLimit": 300}},
   "strokeDash": {"field": "s", "type": "nominal",
    "scale": {"domain": ["a","b","c","d","e","f","g","h","i","j"], "range": [[1,0],[6,3],[3,4.5],[1.5,2.25],[9,3,1.5,3],[4.5,4.5,1.5,4.5],[3,3,3,9],[1.5,3,9,3,1.5,3],[3,3,3,3,3,3,3,6],[1,0]]},
    "legend": {"title": null, "orient": "none", "legendX": 131, "legendY": 6.5, "padding": 0, "rowPadding": 0.8,
     "labelExpr": "{'a':'P(y=-0.97)(x)','b':'P(y=-0.87)(x)','c':'P(y=-0.68)(x)','d':'P(y=-0.44)(x)','e':'P(y=-0.15)(x)','f':'P(y=0.15)(x)','g':'P(y=0.44)(x)','h':'P(y=0.68)(x)','i':'P(y=0.87)(x)','j':'P(y=0.97)(x)'}[datum.label]",
     "labelAlign": "right", "labelOffset": -43, "symbolOffset": 28, "symbolType": "M-4.5,0H4.5", "symbolSize": 100, "symbolStrokeWidth": 1,
     "labelFont": "DejaVu Sans", "labelFontSize": 14.5, "labelColor": "#000", "labelLimit": 300}}
  }
 },
 {
  "mark": {"type": "point", "opacity": 0},
  "encoding": {
   "x": {"field": "x", "type": "quantitative", "axis": {"orient": "top", "values": [-2,-1.75,-1.5,-1.25,-1,-0.75,-0.5,-0.25,0,0.25,0.5,0.75,1,1.25,1.5], "labels": false, "title": null}},
   "y": {"field": "p", "type": "quantitative", "axis": {"orient": "right", "values": [0,0.25,0.5,0.75,1], "labels": false, "title": null}}
  }
 }
],
"resolve": {"axis": {"x": "independent", "y": "independent"}}
}
